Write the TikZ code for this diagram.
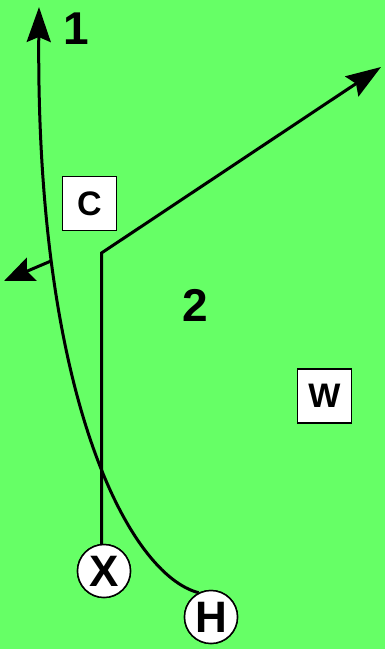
\documentclass[tikz,border=0pt]{standalone}
\usepackage{fontspec}
\setmainfont{Liberation Sans}
\usetikzlibrary{arrows.meta}
\definecolor{field}{HTML}{66FF66}
\begin{document}
\begin{tikzpicture}[x=1pt,y=-1pt,
  player/.style={circle,draw=black,line width=1.5pt,fill=white,minimum size=53pt,inner sep=0pt,font=\fontsize{44}{44}\selectfont\bfseries},
  defbox/.style={rectangle,draw=black,line width=1.5pt,fill=white,minimum width=54pt,minimum height=54pt,inner sep=0pt,font=\fontsize{34}{34}\selectfont\bfseries},
  routelabel/.style={font=\fontsize{46}{46}\selectfont\bfseries,inner sep=0pt},
  route/.style={line width=3pt},
  bigtip/.style={-{Stealth[length=35pt,width=24pt,inset=5pt]}},
  smalltip/.style={-{Stealth[length=30pt,width=25pt,inset=5pt]}}]
\fill[field] (0,0) rectangle (385,649);
\useasboundingbox (0,0) rectangle (385,649);
\node[defbox] (C) at (89.5,203.5) {C};
\node[defbox] (W) at (324.5,396) {W};
\node[routelabel] (L1) at (76,29) {1};
\node[routelabel] (L2) at (195,305) {2};
\coordinate (T1) at (39,7);
\coordinate (B1) at (51,261);
\coordinate (T2) at (4,281);
\coordinate (K) at (101.5,253);
\coordinate (T3) at (381,67);
\node[player] (H) at (211,617) {H};
\node[player] (X) at (104,571) {X};
\draw[route,bigtip] (H.117) .. controls (130,575) and (36,400) .. (T1);
\draw[route,smalltip] (B1) -- (T2);
\draw[route,bigtip] (X.95) -- (K) -- (T3);
\node[player] at (H) {H};
\node[player] at (X) {X};
\end{tikzpicture}
\end{document}
